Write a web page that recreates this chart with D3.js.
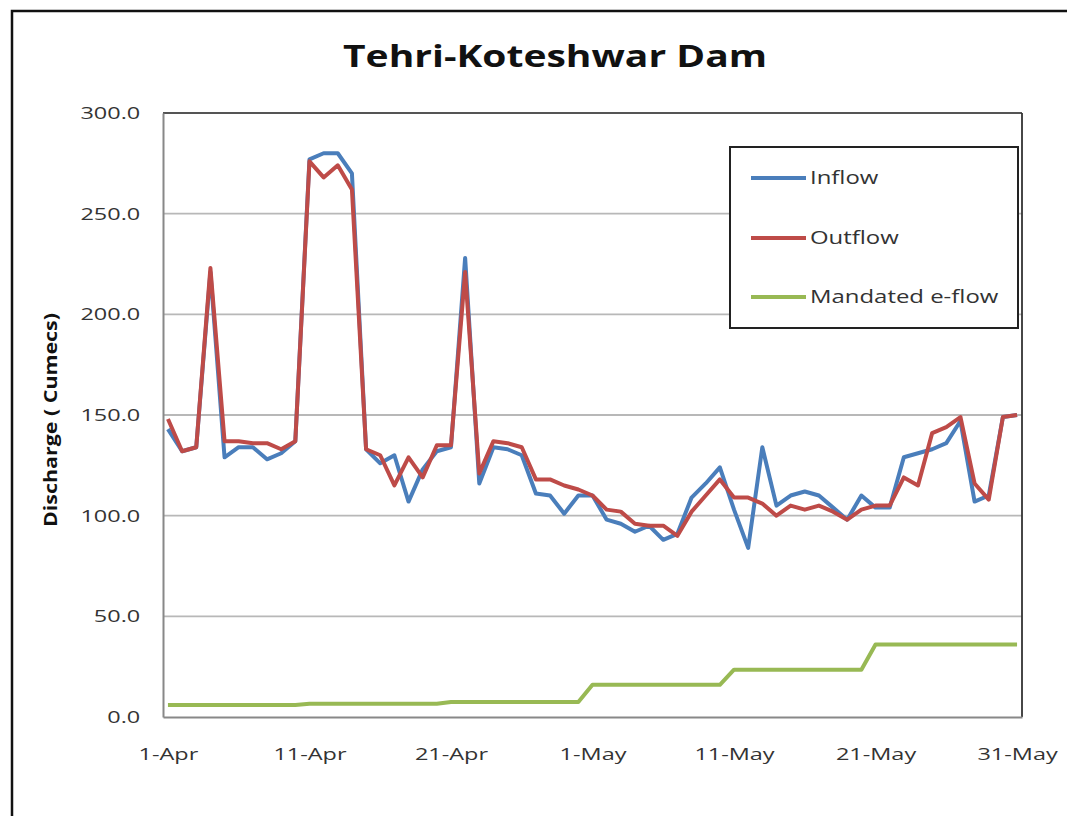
<!DOCTYPE html>
<html><head><meta charset="utf-8">
<script src="https://cdn.jsdelivr.net/npm/d3@7"></script>
<style>body{margin:0;background:#fff;} svg{display:block;}</style>
</head><body>
<script>
const dates = ["1-Apr","2-Apr","3-Apr","4-Apr","5-Apr","6-Apr","7-Apr","8-Apr","9-Apr","10-Apr",
"11-Apr","12-Apr","13-Apr","14-Apr","15-Apr","16-Apr","17-Apr","18-Apr","19-Apr","20-Apr",
"21-Apr","22-Apr","23-Apr","24-Apr","25-Apr","26-Apr","27-Apr","28-Apr","29-Apr","30-Apr",
"1-May","2-May","3-May","4-May","5-May","6-May","7-May","8-May","9-May","10-May",
"11-May","12-May","13-May","14-May","15-May","16-May","17-May","18-May","19-May","20-May",
"21-May","22-May","23-May","24-May","25-May","26-May","27-May","28-May","29-May","30-May","31-May"];
const inflow = [143,132,134,221,129,134,134,128,131,137,
277,280,280,270,133,126,130,107,123,132,
134,228,116,134,133,130,111,110,101,110,
110,98,96,92,95,88,91,109,116,124,
103,84,134,105,110,112,110,104,98,110,
104,104,129,131,133,136,147,107,110,149,150];
const outflow = [148,132,134,223,137,137,136,136,133,137,
276,268,274,262,133,130,115,129,119,135,
135,221,121,137,136,134,118,118,115,113,
110,103,102,96,95,95,90,102,110,118,
109,109,106,100,105,103,105,102,98,103,
105,105,119,115,141,144,149,116,108,149,150];
const eflow = [6,6,6,6,6,6,6,6,6,6,
6.6,6.6,6.6,6.6,6.6,6.6,6.6,6.6,6.6,6.6,
7.4,7.4,7.4,7.4,7.4,7.4,7.4,7.4,7.4,7.4,
16,16,16,16,16,16,16,16,16,16,
23.5,23.5,23.5,23.5,23.5,23.5,23.5,23.5,23.5,23.5,
36,36,36,36,36,36,36,36,36,36,36];
const yTicks = [0,50,100,150,200,250,300];
const xTickIdx = [0,10,20,30,40,50,60];
const seriesNames = ["Inflow","Outflow","Mandated e-flow"];
const seriesColors = ["#4A7EBB","#BE4B48","#98B954"];

const W=1067,H=816, SX=1.38;
const svg=d3.select("body").append("svg").attr("width",W).attr("height",H);
svg.append("rect").attr("x",12).attr("y",11).attr("width",1200).attr("height",1000)
  .attr("fill","#fff").attr("stroke","#111").attr("stroke-width",2.5);

const L=163,R=1022,T=113,B=717;
const x=d3.scaleLinear().domain([-0.35,60.35]).range([L,R]);
const y=d3.scaleLinear().domain([0,300]).range([B,T]);

svg.append("g").selectAll("line").data(yTicks.filter(d=>d>0)).join("line")
  .attr("x1",L).attr("x2",R).attr("y1",d=>y(d)).attr("y2",d=>y(d))
  .attr("stroke","#b8b8b8").attr("stroke-width",1.8);
svg.append("line").attr("x1",L).attr("x2",R).attr("y1",T).attr("y2",T).attr("stroke","#555").attr("stroke-width",2);
svg.append("line").attr("x1",R).attr("x2",R).attr("y1",T).attr("y2",B).attr("stroke","#333").attr("stroke-width",1.8);

const yAx=svg.append("g").attr("transform",`translate(${L},0)`)
  .call(d3.axisLeft(y).tickValues(yTicks).tickFormat(d3.format(".1f")).tickSize(0).tickPadding(16.5));
yAx.select(".domain").attr("stroke","#888").attr("stroke-width",2);
yAx.selectAll("text").attr("font-family","Open Sans, sans-serif").attr("font-size",17).attr("fill","#333")
  .attr("transform",`scale(${SX},1)`);
const xAx=svg.append("g").attr("transform",`translate(0,${B})`)
  .call(d3.axisBottom(x).tickValues(xTickIdx).tickFormat(i=>dates[i]).tickSize(0).tickPadding(31));
xAx.select(".domain").attr("stroke","#888").attr("stroke-width",2);
xAx.selectAll("text").attr("font-family","Open Sans, sans-serif").attr("font-size",17).attr("fill","#333")
  .attr("transform",`scale(${SX},1)`);

const line=d3.line().x((d,i)=>x(i)).y(d=>y(d));
[inflow,outflow,eflow].forEach((s,k)=>{
  svg.append("path").datum(s).attr("d",line).attr("fill","none")
    .attr("stroke",seriesColors[k]).attr("stroke-width",4).attr("stroke-linejoin","round");
});

svg.append("text").attr("x",555).attr("y",67).attr("text-anchor","middle")
  .attr("font-family","Open Sans, sans-serif").attr("font-weight","bold").attr("font-size",31)
  .attr("fill","#111").attr("textLength",424).attr("lengthAdjust","spacingAndGlyphs").text("Tehri-Koteshwar Dam");
svg.append("text").attr("transform","translate(57,420) rotate(-90)").attr("text-anchor","middle")
  .attr("font-family","Open Sans, sans-serif").attr("font-weight","bold").attr("font-size",17)
  .attr("fill","#111").attr("textLength",214).attr("lengthAdjust","spacingAndGlyphs").text("Discharge ( Cumecs)");

const lg=svg.append("g");
lg.append("rect").attr("x",730).attr("y",147).attr("width",288).attr("height",181)
  .attr("fill","#fff").attr("stroke","#222").attr("stroke-width",2);
const ly=[178,238,297];
seriesNames.forEach((n,k)=>{
  lg.append("line").attr("x1",751).attr("x2",806).attr("y1",ly[k]).attr("y2",ly[k])
    .attr("stroke",seriesColors[k]).attr("stroke-width",4);
  lg.append("text").attr("transform",`translate(810,${ly[k]+6}) scale(1.33,1)`)
    .attr("font-family","Open Sans, sans-serif")
    .attr("font-size",18).attr("fill","#333").text(n);
});
</script>
</body></html>
